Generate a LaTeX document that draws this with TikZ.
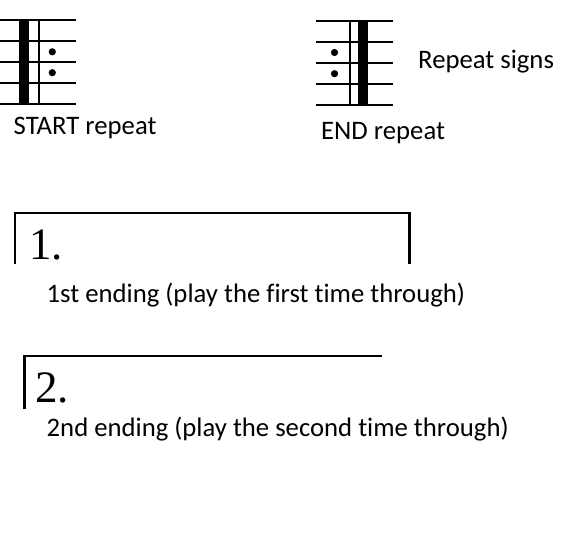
\documentclass[tikz,border=0pt]{standalone}
\usepackage{fontspec}
\setmainfont{Carlito}[Ligatures={NoCommon,NoContextual}]
\newfontfamily\serifnum{Liberation Serif}
\begin{document}
\begin{tikzpicture}[x=1pt,y=-1pt,
  staffline/.style={line width=2pt},
  thinbar/.style={line width=2.4pt},
  thickbar/.style={fill=black},
  bracket/.style={line width=2.7pt},
  label/.style={anchor=base west,inner sep=0pt,font=\fontsize{26.7}{31}\selectfont},
  numlabel/.style={anchor=base west,inner sep=0pt,font=\serifnum\fontsize{45}{50}\selectfont},
  dotmark/.style={fill=black}]
\useasboundingbox (0,0) rectangle (575,541);
% START repeat staff
\foreach \y in {20,41,62,83,104} \draw[staffline] (0,\y) -- (76,\y);
\fill[thickbar] (19,20) rectangle (29.3,104);
\draw[thinbar] (38.8,20) -- (38.8,104);
\fill[dotmark] (52.3,51.8) circle (3.6);
\fill[dotmark] (52.3,72.7) circle (3.6);
\node[label] (start) at (13.5,134.5) {START repeat};
% END repeat staff
\foreach \y in {21,42,63,84,105} \draw[staffline] (316,\y) -- (393,\y);
\draw[thinbar] (350.2,21) -- (350.2,105);
\fill[thickbar] (357.7,21) rectangle (368.3,105);
\fill[dotmark] (334.5,52.5) circle (3.6);
\fill[dotmark] (334.5,73.7) circle (3.6);
\node[label] (endr) at (321,139.3) {END repeat};
\node[label] (signs) at (418,68.3) {Repeat signs};
% first ending
\draw[bracket] (15,264) -- (15,213) -- (409.5,213) -- (409.5,264);
\node[numlabel] (one) at (29,259.3) {1.};
\node[label] (first) at (46.5,302.5) {1st ending (play the first time through)};
% second ending
\draw[bracket] (24.5,409) -- (24.5,356) -- (381.7,356);
\node[numlabel] (two) at (35,402.7) {2.};
\node[label] (second) at (46.5,436.7) {2nd ending (play the second time through)};
\end{tikzpicture}
\end{document}
